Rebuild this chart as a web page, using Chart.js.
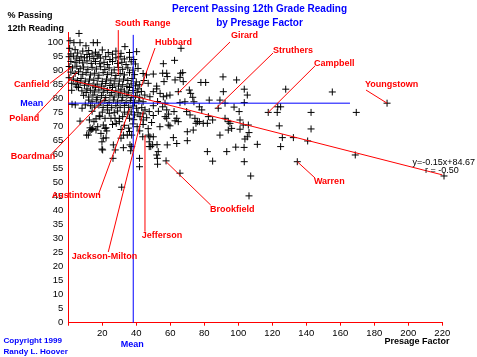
<!DOCTYPE html>
<html><head><meta charset="utf-8">
<script src="https://cdn.jsdelivr.net/npm/chart.js@4"></script>
<style>html,body{margin:0;padding:0;background:#fff;}canvas{display:block;}</style>
</head><body>
<canvas id="c" width="477" height="357"></canvas>
<script>
// [presage factor, % passing 12th grade reading]
const districtPoints = [
[6.3,103.3],[1,100.7],[3.3,100],[6.9,100],[10.4,98.9],[14.7,100],[17.1,100],[33.3,98.6],[40.2,96.8],[66.3,98],
[0.8,98],[4,97.5],[8.5,97],[12,97.2],[16,96.6],[20,97.4],[23.5,96.5],[28,97],[31,96.2],[36,96.5],
[1.5,96],[5.5,96.3],[11,95.8],[14,96],[18,95.7],[26,95.9],
[0.5,95],[3,95.2],[5,94.5],[7.5,95],[9.5,94.6],[12.5,95],[15,94.3],[17,95.2],[19,94.5],[22,95],[24.5,94],[28,94.6],[30.5,95],[33,94.2],[36,94.8],[38.5,94],
[1.5,93.3],[4,93],[6.5,93.6],[8.5,92.8],[11,93.5],[13.5,92.6],[16,93.3],[18.5,92.5],[21,93],[23,92.2],[26,93.3],[29,92.6],[31.5,93],[34,92.2],[37,93.2],[39.5,92.4],
[62.5,93.7],[55.9,92.5],
[0.5,91.5],[2.5,91],[5,91.6],[7,90.7],[9,91.3],[11.5,90.5],[14,91.2],[16.5,90.6],[19,91.4],[21.5,90.4],[24,91],[27,90.3],[29.5,91.2],[32,90.5],[35,91],[38,90.2],[41,90.8],
[1.5,89.5],[4,89],[6,89.6],[8.5,88.7],[10.5,89.3],[13,88.5],[15.5,89.1],[18,88.4],[20.5,89.3],[23,88.6],[25.5,89.2],[28,88.3],[30.5,89],[33,88.5],[36,89.3],[39,88.6],[44,89],[46,88.5],
[55.5,89.1],[57.9,89.1],[66.1,89.1],[67.3,89.3],[58.2,87.9],[50,88.8],
[0.5,87.5],[3,87],[5.5,86.5],[7.5,87.2],[10,86.3],[12.5,87],[15,86.6],[17.5,87.3],[20,86.2],[22.5,87],[25,86.4],[27.5,87.1],[30,86.3],[32.5,87],[35,86.5],[37.5,87.2],[40,86],
[2,85.5],[4.5,85],[7,85.6],[9.5,84.8],[12,85.3],[14.5,84.6],[17,85.2],[19.5,84.5],[22,85.4],[24.5,84.7],[27,85.3],[29.5,84.5],[32,85],[34.5,84.4],[37,85.3],[39.5,84.6],[42,85],
[44.5,86.5],[47,85.5],[52,84.5],[62.8,86.7],[65.7,87.6],[56.3,86.1],[67.6,86.1],[78,85.8],[80.8,85.8],[91,87.8],[99,86.7],
[6,84],[11,83.5],[16,84.1],[21,83.6],[26,84],[31,83.4],[36,84],[41,83.5],[2,83],[5,84.2],
[8,82.8],[10.5,82.2],[13,83],[15.5,82.4],[18,83.1],[20.5,82.3],[23,82.9],[25.5,82.2],[28,82.8],[30.5,82],[33,82.7],[35.5,82.1],[38,82.9],[40.5,82.3],[43,82.6],
[9,81.2],[12,80.6],[14.5,81.3],[17,80.5],[19.5,81.1],[22,80.4],[24.5,81.2],[27,80.6],[29.5,81.3],[32,80.5],[34.5,81.1],[37,80.4],[39.5,81],[42,80.5],[45,81.3],[48,80.7],
[64.7,82.5],[71.2,83.1],[72,81.9],[59.8,81.3],[54,81.9],[73.2,80.5],[55.9,80.7],[57.9,81],[91.2,82.5],[105.3,81.3],[103.5,83.4],[127.9,83.4],[155.3,82.4],[50,82.5],[52,83.5],
[12,79.5],[14,78.9],[16.5,79.6],[19,78.8],[21.5,79.4],[24,78.7],[26.5,79.5],[29,78.8],[31.5,79.4],[34,78.7],[36.5,79.3],[39,78.6],[41.5,79.2],[44,78.9],
[2.2,78],[4.1,77.8],[13,77.5],[15.5,77],[18,77.7],[20.5,76.9],[23,77.6],[25.5,76.8],[28,77.5],[30.5,76.9],[33,77.6],[35.5,76.9],[38,77.4],[40.2,76.6],[43.2,76.8],[45.1,76],[8.1,76.6],[10,77.8],
[65.7,78.6],[68.6,78.9],[73.9,78.9],[82.9,79.5],[89.2,79.5],[92.2,78.4],[56.9,78.4],[55.5,77.1],[77.1,77.1],[78.5,76],[57.9,76],[88.2,76.6],[97.5,77],[103.5,78.6],[123.2,77.1],[124.9,77.1],[187.5,78.4],[50,77.5],[52.5,79],
[47.6,75.4],[62.2,75.4],[69.6,75.4],[100.5,75.4],[117.6,75.1],[122.9,75.1],[142.8,75.1],[169.4,75.1],
[18.2,73.9],[24.1,74.8],[25.1,73],[30,73],[32,73.6],[18.6,73.6],[21.6,73],[27.5,73],[42.2,73.6],[44.1,72.4],[46.1,73.2],[16.3,72.8],[56.9,73.6],[57.9,73],[63.8,73],[62.8,72.1],[71.6,74.2],[74.5,73],[82.4,73.6],[92.2,73],[84.9,72.4],[101,72.4],[6.9,72],[12.4,72.4],[15.1,71.8],[30,71.8],
[14,75.5],[20,75.2],[23,76],[27,75],[29,75.6],[33,75.2],[35,74.5],[37,75.3],[39,74.2],[41,75],[44,74.6],[36,73],[38.5,72.5],[50,74],[53,75.5],[59,74.5],
[64.7,71.8],[75.9,71.8],[77.1,71.8],[75.1,71.2],[79.4,71.2],[81.8,71.2],[94.1,71.8],[95.1,71.2],[28.2,71.2],
[12.8,69.6],[17.3,70],[20.6,70.6],[22.2,69.6],[14.4,69.4],[16.3,68.8],[21.6,69.4],[22.6,68.5],[12.8,68.5],[13.8,69],
[58.8,70.6],[59.8,70.3],[53.9,70],[102.9,70.6],[105.9,70.6],[96.1,69.4],[94.1,68.8],[101,69.1],[70,68.2],[73.5,68.8],[124.1,70.3],[142.8,69.2],[106.3,67.9],
[33,70.5],[35.5,69.5],[38,71],[40.5,70],[44,70.8],[47,69.3],[49,71.5],[31,69],[26,70.8],[36,68.3],[42,68.5],
[10.8,67],[11.8,67],[19.2,67.6],[20.6,65.9],[22.2,66],[32.4,67],[34.7,67],[37.3,67],[43.8,66.4],[47.1,67],[48,66.4],[50,66.4],[61.8,66.1],[89.2,67],[105.3,66.4],[103.9,65.6],[125.9,66.1],[132.4,66.1],[140.8,64.9],
[19.8,64.6],[31,65.9],[47.6,64.6],[63.8,64],[70,65],[111.2,63.7],[36.3,63.5],[26.5,63.5],[49.6,63.5],[52.2,63.6],[58.2,63.5],
[32.4,62.5],[37.3,62.9],[36.7,61.4],[48.5,62.9],[47.6,62.9],[20.2,61.7],[27.6,61.7],[52.9,61.1],[52,59.9],[19.8,62],[103.4,62.6],[98.5,62.7],[124.9,62.9],[81.8,61.1],[93.2,61.1],
[168.8,59.9],[26.3,58.7],[41.9,58.7],[52.4,58.7],[57.5,57.8],[84.9,57.7],[103.5,57.5],[134.7,57.5],[52.5,56.6],[41.9,55.7],
[65.7,53.4],[107.3,52.4],[221,52.4],[31.4,48.4],[106.3,45.3]
];
const xTickValues = [0,20,40,60,80,100,120,140,160,180,200,220];
const yTickValues = [0,5,10,15,20,25,30,35,40,45,50,55,60,65,70,75,80,85,90,95,100];
const regressionX = [0, 220];
const regressionY = [86.9, 52.8];
const meanPresage = 38.2;
const meanPassing = 78.4;
const meanLineEndX = 165.7;
const meanLineTopY = 102.8;
const equationText = ['y=-0.15x+84.67', 'r = -0.50'];

// district call-outs (in data units)
const districtNames = ['South Range','Hubbard','Girard','Struthers','Campbell','Youngstown','Warren','Brookfield','Jefferson','Jackson-Milton','Austintown','Boardman','Poland','Canfield'];
const labelX =   [27.5, 51.0, 95.7, 120.4, 144.5, 174.5, 144.5, 83.4, 43.2, 2.0, -9.8, -33.9, -34.7, -31.9];
const labelY =   [106.7, 99.9, 102.4, 97.2, 92.4, 84.9, 50.4, 40.6, 31.1, 23.8, 45.6, 59.3, 73.0, 84.9];
const leadFromX = [29.4, 51.0, 95.1, 120.4, 145.1, 175.1, 134.7, 83.8, 45.1, 23.5, 17.6, -9.8, -19.6, -10.8];
const leadFromY = [104.5, 98.1, 100.25, 96.3, 91.7, 83.1, 57.5, 42.0, 32.5, 25.25, 45.6, 60.3, 73.6, 85.5];
const leadToX =   [29.4, 42.8, 64.5, 87.0, 117.6, 187.5, 145.1, 57.5, 45.1, 44.1, 36.3, 21.6, 5.3, 2.0];
const leadToY =   [88.5, 84.2, 82.0, 76.6, 75.1, 78.4, 51.7, 57.5, 67.0, 75.4, 76.6, 80.1, 89.6, 91.4];

const FONT = '"Liberation Sans", Arial, sans-serif';
const RED = '#ff0000', BLUE = '#0000ff';

const overlay = {
  id: 'overlay',
  afterDatasetsDraw(chart) {
    const {ctx, scales: {x, y}} = chart;
    ctx.save();
    ctx.lineWidth = 1;
    ctx.strokeStyle = RED;
    districtNames.forEach((n, i) => {
      ctx.beginPath();
      ctx.moveTo(x.getPixelForValue(leadFromX[i]), y.getPixelForValue(leadFromY[i]));
      ctx.lineTo(x.getPixelForValue(leadToX[i]), y.getPixelForValue(leadToY[i]));
      ctx.stroke();
    });
    ctx.textBaseline = 'middle';
    ctx.textAlign = 'left';
    ctx.fillStyle = RED;
    ctx.font = 'bold 9px ' + FONT;
    districtNames.forEach((n, i) => {
      ctx.fillText(n, x.getPixelForValue(labelX[i]), y.getPixelForValue(labelY[i]));
    });
    // Mean labels
    ctx.fillStyle = BLUE;
    ctx.font = 'bold 9px ' + FONT;
    ctx.textAlign = 'right';
    ctx.fillText('Mean', x.left - 25, y.getPixelForValue(meanPassing) + 0.5);
    ctx.textAlign = 'center';
    ctx.fillText('Mean', x.getPixelForValue(meanPresage) - 1, y.bottom + 22);
    // equation
    ctx.fillStyle = '#000';
    ctx.font = '9px ' + FONT;
    ctx.textAlign = 'left';
    ctx.fillText(equationText[0], 412.5, 162.5);
    ctx.fillText(equationText[1], 425, 171);
    // titles
    ctx.fillStyle = BLUE;
    ctx.font = 'bold 10px ' + FONT;
    ctx.textAlign = 'center';
    ctx.fillText('Percent Passing 12th Grade Reading', 259.5, 9.5);
    ctx.fillText('by Presage Factor', 259.5, 23.5);
    ctx.fillStyle = '#000';
    ctx.font = 'bold 9px ' + FONT;
    ctx.textAlign = 'left';
    ctx.fillText('% Passing', 7.5, 16);
    ctx.fillText('12th Reading', 7.5, 28.5);
    ctx.fillText('Presage Factor', 384.5, 341.5);
    ctx.fillStyle = BLUE;
    ctx.font = 'bold 8.1px ' + FONT;
    ctx.fillText('Copyright 1999', 3.5, 340.5);
    ctx.fillText('Randy L. Hoover', 3.5, 351.5);
    ctx.restore();
  }
};

new Chart(document.getElementById('c'), {
  type: 'scatter',
  data: {
    datasets: [
      {
        data: districtPoints.map(p => ({x: p[0], y: p[1]})),
        pointStyle: 'cross', pointRadius: 3.5, pointHoverRadius: 3.5,
        borderColor: '#000', backgroundColor: '#000', pointBorderWidth: 1,
        showLine: false, clip: false, order: 10
      },
      {
        type: 'line',
        data: regressionX.map((v, i) => ({x: v, y: regressionY[i]})),
        borderColor: RED, borderWidth: 1, pointRadius: 0, fill: false, clip: false, order: 1
      },
      {
        type: 'line',
        data: [{x: 0, y: meanPassing}, {x: meanLineEndX, y: meanPassing}],
        borderColor: BLUE, borderWidth: 1, pointRadius: 0, fill: false, clip: false, order: 1
      },
      {
        type: 'line',
        data: [{x: meanPresage, y: 0}, {x: meanPresage, y: meanLineTopY}],
        borderColor: BLUE, borderWidth: 1, pointRadius: 0, fill: false, clip: false, order: 1
      }
    ]
  },
  options: {
    responsive: false,
    animation: false,
    devicePixelRatio: 1,
    events: [],
    layout: {padding: {top: 32.9, right: 34.7, bottom: 0, left: 0}},
    plugins: {legend: {display: false}, tooltip: {enabled: false}, title: {display: false}},
    scales: {
      x: {
        type: 'linear', min: 0, max: 220,
        afterFit: s => { s.height = 34.3; },
        afterBuildTicks: s => { s.ticks = xTickValues.map(v => ({value: v})); },
        border: {color: RED, width: 1},
        grid: {display: true, drawOnChartArea: false, drawTicks: true, tickLength: 3, color: RED},
        ticks: {color: '#000', font: {family: FONT, size: 9.5}, padding: 2, maxRotation: 0,
                callback: v => v === 0 ? '' : String(v)}
      },
      y: {
        type: 'linear', min: 0, max: 103.5,
        afterFit: s => { s.width = 68.3; },
        afterBuildTicks: s => { s.ticks = yTickValues.map(v => ({value: v})); },
        border: {color: RED, width: 1},
        grid: {display: false, drawTicks: false},
        ticks: {color: '#000', font: {family: FONT, size: 9.5}, padding: 5, autoSkip: false}
      }
    }
  },
  plugins: [overlay]
});
</script>
</body></html>
